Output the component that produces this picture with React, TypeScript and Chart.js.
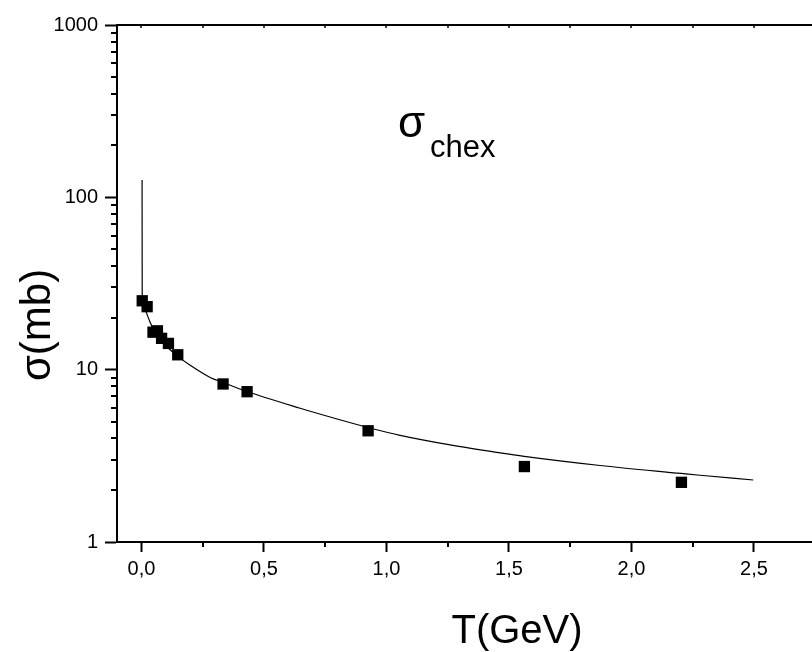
import React, { useEffect, useRef } from "react";
import { Chart, registerables } from "chart.js";

Chart.register(...registerables);

// Measured data points: kinetic energy T (GeV) and charge-exchange cross-section (mb)
const T_POINTS = [0.003, 0.023, 0.047, 0.065, 0.082, 0.110, 0.148, 0.333, 0.431, 0.925, 1.563, 2.204];
const SIGMA_POINTS = [25.1, 23.2, 16.5, 16.8, 15.2, 14.2, 12.2, 8.26, 7.45, 4.42, 2.74, 2.22];

// Fit curve
const T_CURVE = [0.0024, 0.0029, 0.0049, 0.009, 0.0151, 0.0233, 0.0355, 0.0478, 0.0682, 0.0967, 0.1498, 0.1988, 0.2804, 0.3322, 0.4302, 0.6478, 0.7702, 0.9241, 1.0559, 1.26, 1.464, 1.562, 1.872, 2.203, 2.28, 2.497];
const SIGMA_CURVE = [126, 27.9, 25.7, 24.0, 22.5, 20.8, 18.8, 17.2, 15.5, 13.9, 11.9, 10.6, 9.01, 8.43, 7.47, 5.97, 5.31, 4.62, 4.16, 3.66, 3.29, 3.14, 2.78, 2.5, 2.44, 2.29];

// Axis ticks
const X_MAJOR = [0, 0.5, 1.0, 1.5, 2.0, 2.5];
const X_MINOR = [0.25, 0.75, 1.25, 1.75, 2.25];
const Y_MAJOR = [1, 10, 100, 1000];
const Y_MINOR = [2, 3, 4, 5, 6, 7, 8, 9, 20, 30, 40, 50, 60, 70, 80, 90, 200, 300, 400, 500, 600, 700, 800, 900];

const X_MIN = -0.1;
const X_MAX = 2.737;

const FONT = "'Liberation Sans', Arial, Helvetica, sans-serif";

const framePlugin = {
  id: "framePlugin",
  afterDraw(chart: any) {
    const { ctx, chartArea, scales } = chart;
    const xs = scales.x;
    const ys = scales.y;
    ctx.save();
    ctx.strokeStyle = "#000";
    ctx.lineWidth = 2;
    // top axis line
    ctx.beginPath();
    ctx.moveTo(chartArea.left - 1, chartArea.top);
    ctx.lineTo(chartArea.right, chartArea.top);
    ctx.stroke();
    // x minor ticks (bottom)
    ctx.beginPath();
    X_MINOR.forEach((v) => {
      const px = Math.round(xs.getPixelForValue(v));
      ctx.moveTo(px, chartArea.bottom);
      ctx.lineTo(px, chartArea.bottom + 5);
    });
    // y minor ticks (left)
    Y_MINOR.forEach((v) => {
      const py = Math.round(ys.getPixelForValue(v));
      ctx.moveTo(chartArea.left, py);
      ctx.lineTo(chartArea.left - 6, py);
    });
    ctx.stroke();
    // tiny inner ticks on top axis
    ctx.lineWidth = 1.5;
    ctx.beginPath();
    [...X_MAJOR, ...X_MINOR].forEach((v) => {
      const px = Math.round(xs.getPixelForValue(v));
      ctx.moveTo(px, chartArea.top);
      ctx.lineTo(px, chartArea.top + 3);
    });
    ctx.stroke();

    // texts
    ctx.fillStyle = "#000";
    ctx.textAlign = "left";
    ctx.textBaseline = "alphabetic";
    ctx.font = `44px ${FONT}`;
    ctx.fillText("σ", 398, 137);
    ctx.font = `31px ${FONT}`;
    ctx.fillText("chex", 430, 157);

    ctx.textAlign = "center";
    ctx.font = `40px ${FONT}`;
    ctx.fillText("T(GeV)", 517, 643);

    ctx.save();
    ctx.translate(50, 325);
    ctx.rotate(-Math.PI / 2);
    ctx.font = `42px ${FONT}`;
    ctx.textAlign = "center";
    ctx.fillText("σ(mb)", 0, 0);
    ctx.restore();

    ctx.restore();
  },
};

export default function App() {
  const canvasRef = useRef<HTMLCanvasElement | null>(null);

  useEffect(() => {
    if (!canvasRef.current) return;
    const points = T_POINTS.map((t, i) => ({ x: t, y: SIGMA_POINTS[i] }));
    const curve = T_CURVE.map((t, i) => ({ x: t, y: SIGMA_CURVE[i] }));

    const chart = new Chart(canvasRef.current, {
      type: "scatter",
      data: {
        datasets: [
          {
            label: "data",
            data: points,
            pointStyle: "rect",
            pointRadius: 8,
            pointHoverRadius: 8,
            pointBackgroundColor: "#000",
            pointBorderWidth: 0,
            borderWidth: 0,
            showLine: false,
          },
          {
            label: "fit",
            data: curve,
            showLine: true,
            borderColor: "#000",
            borderWidth: 1.2,
            pointRadius: 0,
            pointHoverRadius: 0,
            cubicInterpolationMode: "monotone",
          },
        ],
      },
      options: {
        animation: false,
        responsive: false,
        maintainAspectRatio: false,
        devicePixelRatio: 1,
        layout: { autoPadding: false, padding: { top: 25, left: 0, right: 0, bottom: 0 } },
        plugins: {
          legend: { display: false },
          tooltip: { enabled: false },
        },
        scales: {
          x: {
            type: "linear",
            min: X_MIN,
            max: X_MAX,
            afterBuildTicks: (scale: any) => {
              scale.ticks = X_MAJOR.map((v) => ({ value: v }));
            },
            afterFit: (scale: any) => {
              scale.height = 110;
              scale.paddingLeft = 0;
              scale.paddingRight = 0;
            },
            grid: {
              display: true,
              drawOnChartArea: false,
              drawTicks: true,
              tickLength: 10,
              tickWidth: 2,
              tickColor: "#000",
            },
            border: { display: true, width: 2, color: "#000" },
            ticks: {
              color: "#000",
              font: { family: FONT, size: 20 },
              padding: 5,
              maxRotation: 0,
              autoSkip: false,
              callback: (v: any) => Number(v).toFixed(1).replace(".", ","),
            },
          },
          y: {
            type: "logarithmic",
            min: 1,
            max: 1000,
            afterBuildTicks: (scale: any) => {
              scale.ticks = Y_MAJOR.map((v) => ({ value: v }));
            },
            afterFit: (scale: any) => {
              scale.width = 117;
            },
            grid: {
              display: true,
              drawOnChartArea: false,
              drawTicks: true,
              tickLength: 12,
              tickWidth: 2,
              tickColor: "#000",
            },
            border: { display: true, width: 2, color: "#000" },
            ticks: {
              color: "#000",
              font: { family: FONT, size: 20 },
              padding: 7,
              autoSkip: false,
              callback: (v: any) => String(v),
            },
          },
        },
      },
      plugins: [framePlugin],
    });
    return () => chart.destroy();
  }, []);

  return (
    <div style={{ position: "absolute", left: 0, top: 0, width: 812, height: 652, background: "#fff", overflow: "hidden" }}>
      <canvas ref={canvasRef} width={812} height={652} style={{ display: "block", width: 812, height: 652 }} />
    </div>
  );
}
